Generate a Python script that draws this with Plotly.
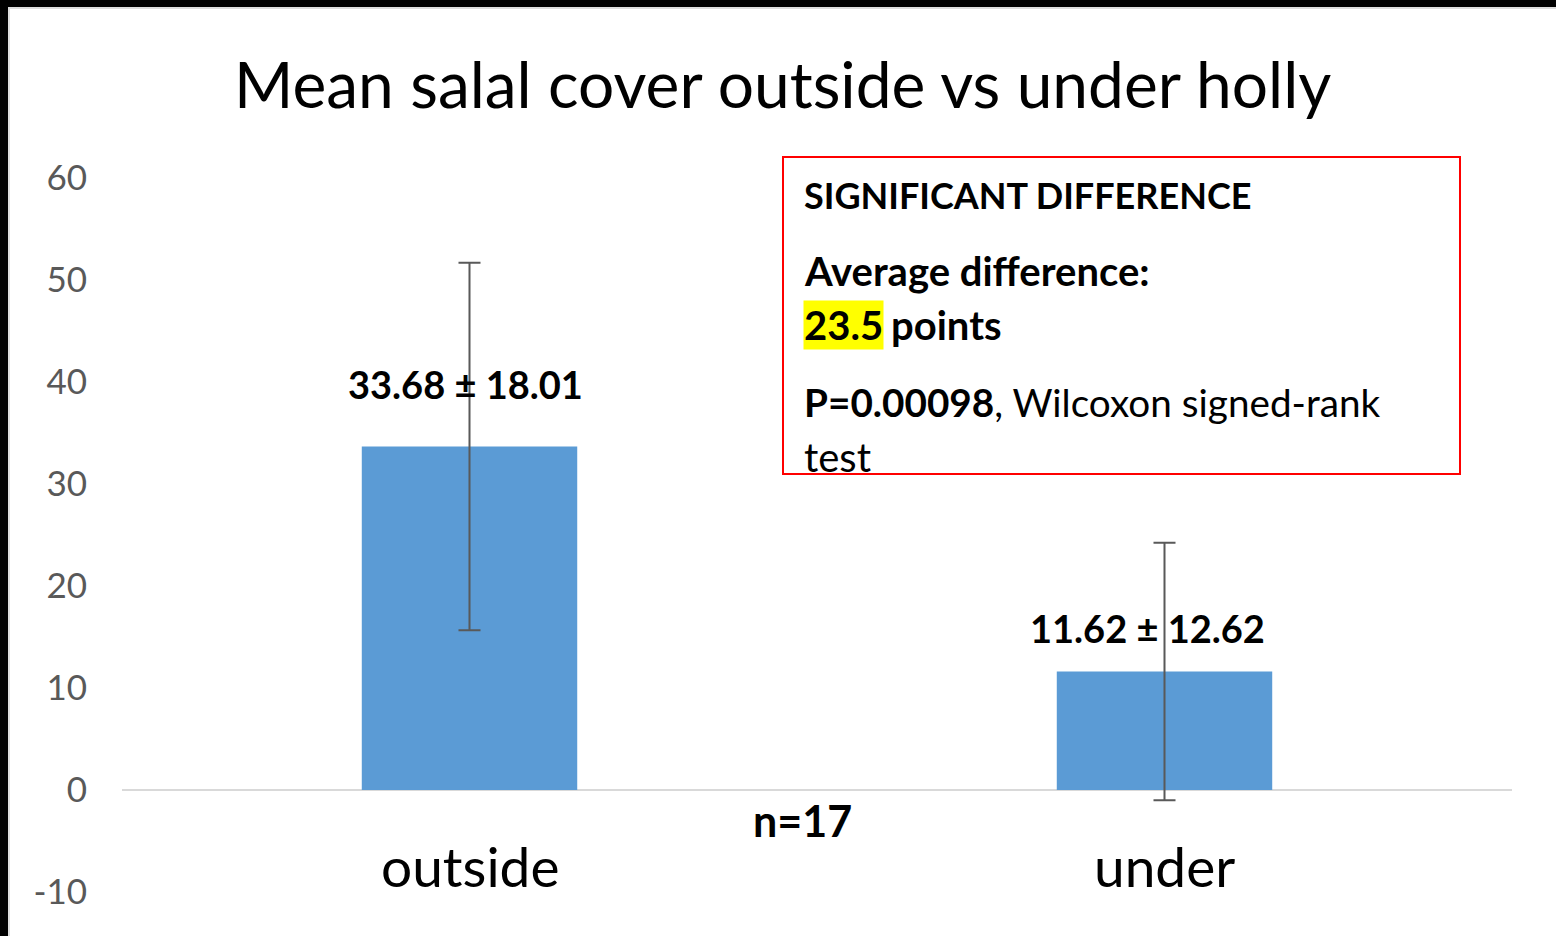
import plotly.graph_objects as go

# ---- data ----
categories = ["outside", "under"]
means = [33.68, 11.62]
sds = [18.01, 12.62]
bar_labels = ["33.68 ± 18.01", "11.62 ± 12.62"]
y_ticks = [-10, 0, 10, 20, 30, 40, 50, 60]
y_tick_text = ["-10", "0", "10", "20", "30", "40", "50", "60"]
title_text = "Mean salal cover outside vs under holly"
n_text = "n=17"

W, H = 1556, 936
L, R, T, B = 122, 44, 178, 44
PW, PH = W - L - R, H - T - B


def px(xp):
    return (xp - L) / PW


def py(yp):
    return (H - B - yp) / PH


FONT = "Lato"

fig = go.Figure()
fig.add_trace(go.Bar(
    x=categories, y=means,
    marker=dict(color="#5B9BD5", line=dict(width=0)),
    width=0.31,
    error_y=dict(type="data", array=sds, visible=True, color="#595959", thickness=2, width=11),
    hoverinfo="skip",
))

# bar value labels
label_shift = [(-4, 62), (-17, 43)]
for cat, m, lab, (dx, dy) in zip(categories, means, bar_labels, label_shift):
    fig.add_annotation(x=cat, y=m, text=f"<b>{lab}</b>", showarrow=False,
                       xshift=dx, yshift=dy, yanchor="middle",
                       font=dict(family=FONT, size=38, color="black"))

# category labels
for cat in categories:
    fig.add_annotation(x=cat, xref="x", yref="paper", y=py(866), text=cat, showarrow=False,
                       yanchor="middle", font=dict(family=FONT, size=55, color="black"))

# n label
fig.add_annotation(xref="paper", yref="paper", x=px(802), y=py(820), text=f"<b>{n_text}</b>",
                   showarrow=False, yanchor="middle", font=dict(family=FONT, size=43, color="black"))

# text box
fig.add_shape(type="rect", xref="paper", yref="paper", x0=px(783), x1=px(1460), y0=py(474), y1=py(157),
              line=dict(color="#FF0000", width=2), fillcolor="rgba(0,0,0,0)", layer="above")


def box_text(xp, yp, text, size, bg=None):
    kw = dict(bgcolor=bg, borderpad=0) if bg else dict(borderpad=0)
    fig.add_annotation(xref="paper", yref="paper", x=px(xp), y=py(yp), xanchor="left", yanchor="middle",
                       text=text, showarrow=False, font=dict(family=FONT, size=size, color="black"), **kw)


box_text(803, 195, "<b>SIGNIFICANT DIFFERENCE</b>", 36)
box_text(803, 271, "<b>Average difference:</b>", 40)
box_text(803, 325, "<b>23.5</b>", 40, bg="#FFFF00")
box_text(890, 325, "<b>points</b>", 40)
box_text(803, 402, "<b>P=0.00098</b>, Wilcoxon signed-rank", 38.7)
box_text(803, 457, "test", 40)

# frame (black top / left edges with light gray inner line)
fig.add_shape(type="rect", xref="paper", yref="paper", x0=px(0), x1=px(W), y0=py(0), y1=py(7),
              line=dict(width=0), fillcolor="black", layer="above")
fig.add_shape(type="rect", xref="paper", yref="paper", x0=px(0), x1=px(8), y0=py(0), y1=py(H),
              line=dict(width=0), fillcolor="black", layer="above")
fig.add_shape(type="line", xref="paper", yref="paper", x0=px(8), x1=px(W), y0=py(8), y1=py(8),
              line=dict(color="#DDDDDD", width=2), layer="above")
fig.add_shape(type="line", xref="paper", yref="paper", x0=px(9), x1=px(9), y0=py(8), y1=py(H),
              line=dict(color="#DDDDDD", width=2), layer="above")

fig.update_layout(
    width=W, height=H,
    margin=dict(l=L, r=R, t=T, b=B, autoexpand=False),
    paper_bgcolor="white", plot_bgcolor="white",
    showlegend=False,
    title=dict(text=title_text, x=0.503, xanchor="center", y=1 - 86 / H, yanchor="middle",
               yref="container", font=dict(family=FONT, size=64, color="black")),
    xaxis=dict(showgrid=False, zeroline=False, showline=False, ticks="", showticklabels=False,
               range=[-0.5, 1.5], fixedrange=True, automargin=False),
    yaxis=dict(range=[-10, 60], tickvals=y_ticks, ticktext=y_tick_text, showgrid=False, zeroline=True,
               zerolinecolor="#D9D9D9", zerolinewidth=2, showline=False, ticks="",
               tickfont=dict(family=FONT, size=35, color="#595959"), ticklabelstandoff=34,
               fixedrange=True, automargin=False),
)

fig.write_html("out.html", config={"displayModeBar": False},
               post_script="document.body.style.margin='0';document.body.style.overflow='hidden';")
